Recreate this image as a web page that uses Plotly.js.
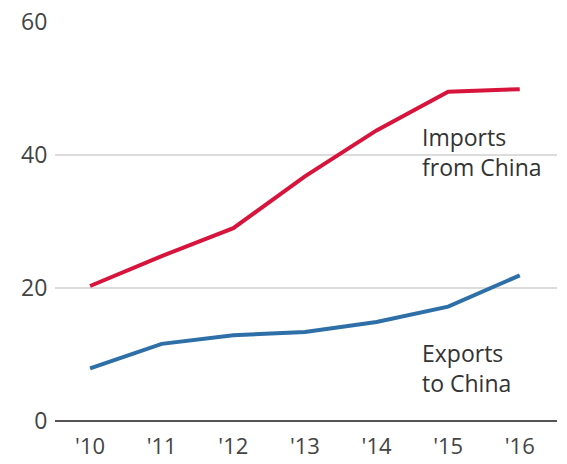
<!DOCTYPE html>
<html>
<head>
<meta charset="utf-8">
<script src="https://cdn.plot.ly/plotly-3.0.1.min.js"></script>
<style>html,body{margin:0;padding:0;background:#fff;}#chart{width:567px;height:464px;}</style>
</head>
<body>
<div id="chart"></div>
<script>
const years = [0, 1, 2, 3, 4, 5, 6];
const yearLabels = ["'10", "'11", "'12", "'13", "'14", "'15", "'16"];
const importsFromChina = [20.3, 24.8, 29.0, 36.8, 43.7, 49.5, 49.9];
const exportsToChina = [7.9, 11.6, 12.9, 13.4, 14.9, 17.2, 21.9];
const yTicks = [0, 20, 40, 60];
const importsLabel = 'Imports<br>from China';
const exportsLabel = 'Exports<br>to China';

const traces = [
  {x: years, y: importsFromChina, type: 'scatter', mode: 'lines',
   line: {color: '#d7143c', width: 4}, hoverinfo: 'skip'},
  {x: years, y: exportsToChina, type: 'scatter', mode: 'lines',
   line: {color: '#2e6fa7', width: 4}, hoverinfo: 'skip'}
];

function lbl(text, y) {
  return {x: 4.6, y: y, xref: 'x', yref: 'y', xanchor: 'left', yanchor: 'middle', align: 'left',
    text: text, showarrow: false, font: {size: 23, color: '#333'}};
}

const layout = {
  width: 567, height: 464,
  margin: {l: 55, r: 10, t: 22, b: 43},
  paper_bgcolor: '#fff', plot_bgcolor: '#fff',
  showlegend: false,
  font: {family: 'Open Sans, sans-serif', color: '#444'},
  xaxis: {
    range: [-0.49, 6.52], tickvals: years, ticktext: yearLabels,
    showgrid: false, zeroline: false, showline: false,
    ticks: 'outside', ticklen: 6, tickcolor: 'rgba(0,0,0,0)',
    tickfont: {size: 22, color: '#444'}
  },
  yaxis: {
    range: [0, 60], tickvals: yTicks, ticktext: yTicks.map(String),
    showgrid: true, gridcolor: '#dcdcdc', gridwidth: 1.5,
    zeroline: true, zerolinecolor: '#555', zerolinewidth: 1.5,
    showline: false, ticks: 'outside', ticklen: 2, tickcolor: 'rgba(0,0,0,0)',
    tickfont: {size: 23, color: '#444'}
  },
  annotations: [
    lbl(importsLabel, 40.5),
    lbl(exportsLabel, 8.0)
  ]
};

Plotly.newPlot('chart', traces, layout, {staticPlot: true, displayModeBar: false});
</script>
</body>
</html>
